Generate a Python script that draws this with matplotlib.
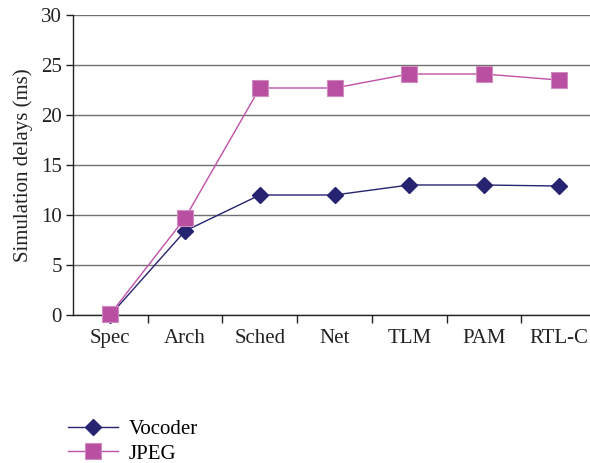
import matplotlib
matplotlib.use("Agg")
import matplotlib.pyplot as plt
import numpy as np

categories = ["Spec", "Arch", "Sched", "Net", "TLM", "PAM", "RTL-C"]
vocoder = [0.0, 8.4, 12.0, 12.0, 13.0, 13.0, 12.9]
jpeg = [0.1, 9.7, 22.7, 22.7, 24.1, 24.1, 23.5]

plt.rcParams['font.family'] = ['Liberation Serif', 'DejaVu Serif']

fig = plt.figure(figsize=(5.9, 4.63), dpi=100)
ax = fig.add_axes([73/590, 1-315/463, 523/590, 300/463])

x = np.arange(len(categories))
ax.plot(x, vocoder, color="#262470", lw=1.0, marker="D", ms=8.5, mfc="#262470", mec="#262470", label="Vocoder", zorder=3, clip_on=False)
ax.plot(x, jpeg, color="#c050a8", lw=1.0, marker="s", ms=11, mfc="#b84fa0", mec="#d08cc0", mew=0.8, label="JPEG", zorder=4, clip_on=False)

ax.set_xlim(-0.5, 6.5)
ax.set_ylim(0, 30)
ax.set_yticks(range(0, 31, 5))
ax.yaxis.grid(True, color="#707070", lw=1.0)
ax.set_axisbelow(True)

ax.set_xticks(x)
ax.set_xticklabels(categories, fontsize=15, color="#222222")
for lab in ax.get_xticklabels():
    lab.set_va('baseline')
ax.tick_params(axis='x', length=0, pad=20)
ax.set_xticks(np.arange(0.5, 6.5, 1.0), minor=True)
ax.tick_params(axis='x', which='minor', length=6, width=1, direction='out', color="#222222")
ax.tick_params(axis='y', length=5, width=1, direction='out', labelsize=15, colors="#222222", pad=3)

for s in ['top', 'right']:
    ax.spines[s].set_visible(False)
for s in ['left', 'bottom']:
    ax.spines[s].set_color("#222222")
    ax.spines[s].set_linewidth(1.0)

ax.set_ylabel("Simulation delays (ms)", fontsize=15, color="#222222", labelpad=6)

fig.legend(loc='upper left', bbox_to_anchor=(60/590, 1-411/463), frameon=False,
           fontsize=15, handlelength=2.4, handletextpad=0.5, labelspacing=0.25, borderaxespad=0)

fig.savefig("out.png", dpi=100)
